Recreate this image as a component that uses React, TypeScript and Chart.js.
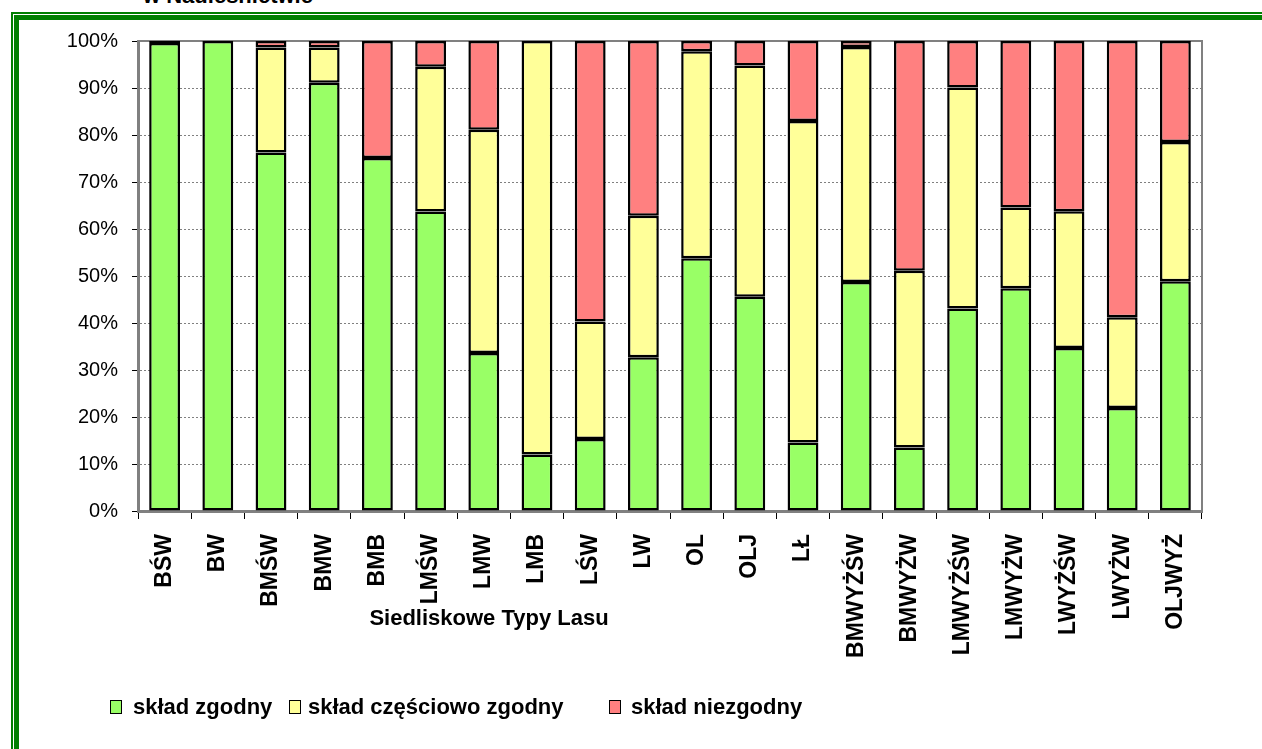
import React, { useEffect, useRef } from "react";
import { Chart, registerables } from "chart.js";

Chart.register(...registerables);

const categories = [
  "BŚW", "BW", "BMŚW", "BMW", "BMB", "LMŚW", "LMW", "LMB", "LŚW", "LW",
  "OL", "OLJ", "LŁ", "BMWYŻŚW", "BMWYŻW", "LMWYŻŚW", "LMWYŻW", "LWYŻŚW", "LWYŻW", "OLJWYŻ",
];

const zgodny = [99.6, 100, 76.3, 91.1, 75.1, 63.7, 33.6, 12.0, 15.3, 32.7, 53.8, 45.6, 14.6, 48.7, 13.5, 43.1, 47.4, 34.7, 21.9, 48.9];
const czesciowo = [0, 0, 22.3, 7.5, 0, 30.8, 47.5, 88.0, 25.0, 30.1, 44.0, 49.2, 68.4, 50.0, 37.6, 47.0, 17.2, 29.1, 19.3, 29.6];
const niezgodny = [0.4, 0, 1.4, 1.4, 24.9, 5.5, 18.9, 0, 59.7, 37.2, 2.2, 5.2, 17.0, 1.3, 48.9, 9.9, 35.4, 36.2, 58.8, 21.5];

const seriesNames = ["skład zgodny", "skład częściowo zgodny", "skład niezgodny"];
const seriesColors = ["#99FF66", "#FFFF99", "#FF8080"];
const yTickValues = [0, 10, 20, 30, 40, 50, 60, 70, 80, 90, 100];

const FONT = "'Liberation Sans', Arial, Helvetica, sans-serif";

const plotBorder = {
  id: "plotBorder",
  beforeDatasetsDraw(chart: any) {
    const { ctx, chartArea } = chart;
    ctx.save();
    ctx.strokeStyle = "#808080";
    ctx.lineWidth = 2;
    ctx.beginPath();
    ctx.moveTo(chartArea.left, chartArea.top);
    ctx.lineTo(chartArea.right, chartArea.top);
    ctx.lineTo(chartArea.right, chartArea.bottom);
    ctx.stroke();
    ctx.restore();
  },
};

export default function App() {
  const ref = useRef<HTMLCanvasElement | null>(null);

  useEffect(() => {
    if (!ref.current) return;
    const data = [zgodny, czesciowo, niezgodny];
    const chart = new Chart(ref.current, {
      type: "bar",
      data: {
        labels: categories,
        datasets: seriesNames.map((name, i) => ({
          label: name,
          data: data[i],
          backgroundColor: seriesColors[i],
          borderColor: "#000000",
          borderWidth: 2.5,
          borderSkipped: false,
          inflateAmount: 0,
          barPercentage: 0.58,
          categoryPercentage: 1,
        })),
      },
      options: {
        responsive: false,
        animation: false,
        devicePixelRatio: 1,
        layout: { padding: { left: 38, right: 60, top: 41, bottom: 38 } },
        plugins: {
          legend: { display: false },
          tooltip: { enabled: false },
          title: { display: false },
        },
        scales: {
          x: {
            stacked: true,
            offset: true,
            afterFit: (s: any) => { s.height = 200; },
            grid: {
              offset: true,
              drawOnChartArea: false,
              tickLength: 8,
              tickColor: "#000000",
              tickWidth: 1,
            },
            border: { display: true, color: "#808080", width: 3 },
            ticks: {
              autoSkip: false,
              maxRotation: 90,
              minRotation: 90,
              padding: 15,
              color: "#000000",
              font: { family: FONT, size: 23, weight: "bold" },
            },
          },
          y: {
            stacked: true,
            min: 0,
            max: 100,
            afterFit: (s: any) => { s.width = 100; },
            afterBuildTicks: (s: any) => { s.ticks = yTickValues.map((v) => ({ value: v })); },
            grid: {
              color: "#808080",
              lineWidth: 1,
              tickLength: 6,
              tickColor: "#000000",
            },
            border: { display: true, color: "#808080", width: 3, dash: [2, 2] },
            ticks: {
              padding: 14,
              color: "#000000",
              font: { family: FONT, size: 20 },
              callback: (v: any) => v + "%",
            },
          },
        },
      },
      plugins: [plotBorder],
    } as any);
    return () => chart.destroy();
  }, []);

  const legendItems = [
    { sq: 110, tx: 133 },
    { sq: 289, tx: 308 },
    { sq: 609, tx: 631 },
  ];

  return (
    <div
      style={{
        position: "fixed",
        left: 0,
        top: 0,
        width: 1262,
        height: 749,
        overflow: "hidden",
        background: "#ffffff",
        fontFamily: FONT,
      }}
    >
      <div
        style={{
          position: "absolute",
          left: 143,
          top: -15,
          fontSize: 22,
          lineHeight: "22px",
          fontWeight: "bold",
          whiteSpace: "nowrap",
          color: "#000",
        }}
      >
        w Nadleśnictwie
      </div>
      <div
        style={{
          position: "absolute",
          left: 11,
          top: 12,
          width: 1400,
          height: 1000,
          borderLeft: "2px solid #008000",
          borderTop: "2px solid #008000",
        }}
      />
      <div
        style={{
          position: "absolute",
          left: 14,
          top: 15,
          width: 1400,
          height: 1000,
          borderLeft: "5px solid #008000",
          borderTop: "5px solid #008000",
        }}
      />
      <canvas
        ref={ref}
        width={1262}
        height={749}
        style={{ position: "absolute", left: 0, top: 0, width: 1262, height: 749 }}
      />
      <div
        style={{
          position: "absolute",
          left: 489,
          top: 607,
          transform: "translateX(-50%)",
          fontSize: 22,
          lineHeight: "22px",
          fontWeight: "bold",
          whiteSpace: "nowrap",
          color: "#000",
        }}
      >
        Siedliskowe Typy Lasu
      </div>
      {legendItems.map((it, i) => (
        <React.Fragment key={i}>
          <div
            style={{
              position: "absolute",
              left: it.sq,
              top: 700,
              width: 10,
              height: 12,
              background: seriesColors[i],
              border: "1.5px solid #000",
            }}
          />
          <div
            style={{
              position: "absolute",
              left: it.tx,
              top: 696,
              fontSize: 22,
              lineHeight: "22px",
              fontWeight: "bold",
              whiteSpace: "nowrap",
              color: "#000",
            }}
          >
            {seriesNames[i]}
          </div>
        </React.Fragment>
      ))}
    </div>
  );
}
